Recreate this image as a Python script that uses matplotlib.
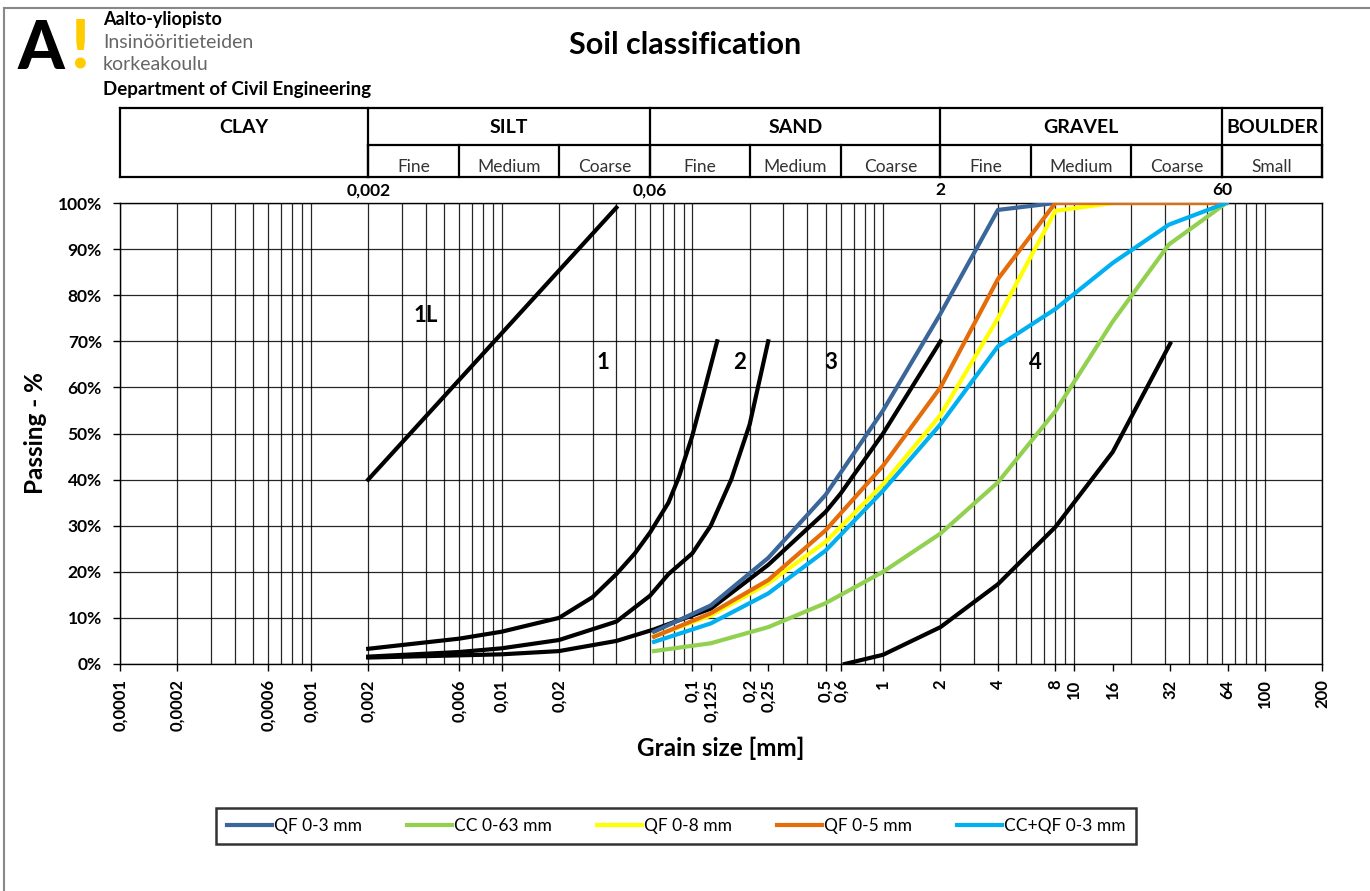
import matplotlib
matplotlib.use("Agg")
import matplotlib.pyplot as plt
from matplotlib.ticker import LogLocator, NullFormatter
from matplotlib.lines import Line2D

plt.rcParams['font.family'] = ['Lato', 'DejaVu Sans']

# grading curves of the tested materials
sieve = [0.063, 0.125, 0.25, 0.5, 1, 2, 4, 8, 16, 31.5, 63]
qf_0_3 = [7, 12.7, 23, 36.7, 55, 76, 98.5, 100, 100, 100, 100]
cc_0_63 = [2.8, 4.5, 8, 13.2, 20, 28.3, 39.4, 54.8, 74.3, 91, 100]
qf_0_8 = [6, 10.5, 17.5, 26.5, 39, 54, 75, 98.3, 100, 100, 100]
qf_0_5 = [5.9, 11, 18.2, 29, 43, 60, 83.5, 100, 100, 100, 100]
ccqf_0_3 = [4.8, 8.8, 15.3, 24.6, 37.6, 52, 68.9, 77, 87, 95.3, 100]

series_names = ["QF 0-3 mm", "CC 0-63 mm", "QF 0-8 mm", "QF 0-5 mm", "CC+QF 0-3 mm"]
series_vals = [qf_0_3, cc_0_63, qf_0_8, qf_0_5, ccqf_0_3]
series_colors = ["#3B6699", "#92D050", "#FFFF00", "#E46C0A", "#00B0F0"]

# zone limit curves (black)
lim_1l_x = [0.002, 0.04]
lim_1l_y = [40, 99]
lim_a_x = [0.002, 0.006, 0.01, 0.02, 0.03, 0.04, 0.05, 0.06, 0.075, 0.085, 0.1, 0.115, 0.135]
lim_a_y = [3.3, 5.5, 7, 10, 14.5, 19.5, 24, 28.5, 35, 40.5, 49.5, 59, 70]
lim_b_x = [0.002, 0.006, 0.01, 0.02, 0.04, 0.06, 0.075, 0.1, 0.125, 0.16, 0.2, 0.25]
lim_b_y = [1.6, 2.6, 3.4, 5.2, 9.2, 14.8, 19.5, 24, 30, 40, 52, 70]
lim_c_x = [0.002, 0.01, 0.02, 0.04, 0.063, 0.125, 0.25, 0.5, 0.6, 1, 2]
lim_c_y = [1.4, 2.1, 2.8, 5, 7.5, 12, 21.5, 33, 37, 50, 70]
lim_d_x = [0.63, 1, 2, 4, 8, 16, 32]
lim_d_y = [0, 2, 8, 17.3, 29.7, 46, 69.5]

zone_labels = ["1L", "1", "2", "3", "4"]
zone_x = [0.004, 0.034, 0.178, 0.53, 6.3]
zone_y = [75.5, 65.5, 65.5, 65.5, 65.5]

tick_vals = [0.0001, 0.0002, 0.0006, 0.001, 0.002, 0.006, 0.01, 0.02, 0.1, 0.125,
             0.2, 0.25, 0.5, 0.6, 1, 2, 4, 8, 10, 16, 32, 64, 100, 200]
tick_labels = ["0,0001", "0,0002", "0,0006", "0,001", "0,002", "0,006", "0,01", "0,02",
               "0,1", "0,125", "0,2", "0,25", "0,5", "0,6", "1", "2", "4", "8", "10",
               "16", "32", "64", "100", "200"]

# header table
main_bounds = [0.0001, 0.002, 0.06, 2, 60, 200]
main_names = ["CLAY", "SILT", "SAND", "GRAVEL", "BOULDER"]
sub_bounds = [0.002, 0.006, 0.02, 0.06, 0.2, 0.6, 2, 6, 20, 60, 200]
sub_names = ["Fine", "Medium", "Coarse", "Fine", "Medium", "Coarse",
             "Fine", "Medium", "Coarse", "Small"]
bound_labels = ["0,002", "0,06", "2", "60"]

W, H = 1370, 891
fig = plt.figure(figsize=(13.7, 8.91), dpi=100)

ax = fig.add_axes([120 / W, 1 - 664 / H, 1202 / W, 461 / H])
ax.set_xscale("log")
ax.set_xlim(0.0001, 200)
ax.set_ylim(0, 100)

for xs, ys in [(lim_1l_x, lim_1l_y), (lim_a_x, lim_a_y), (lim_b_x, lim_b_y),
               (lim_c_x, lim_c_y), (lim_d_x, lim_d_y)]:
    ax.plot(xs, ys, color="black", lw=3, zorder=3)

for name, vals, col in zip(series_names, series_vals, series_colors):
    ax.plot(sieve, vals, color=col, lw=3, label=name, zorder=4)

for lab, zx, zy in zip(zone_labels, zone_x, zone_y):
    ax.text(zx, zy, lab, fontsize=16, fontweight="bold", ha="center", va="center")

ax.set_xticks(tick_vals)
ax.set_xticklabels(tick_labels, rotation=90, fontsize=12, fontweight="bold")
ax.xaxis.set_minor_locator(LogLocator(base=10, subs=range(1, 10), numticks=100))
ax.xaxis.set_minor_formatter(NullFormatter())
ax.xaxis.remove_overlapping_locs = False
ax.tick_params(axis="x", which="minor", length=0)
ax.tick_params(axis="x", which="major", length=5, direction="out", width=1, pad=6)
ax.grid(True, which="minor", axis="x", color="black", lw=0.9, alpha=0.85)

ax.set_yticks(range(0, 101, 10))
ax.set_yticklabels([f"{v}%" for v in range(0, 101, 10)], fontsize=12.5, fontweight="bold")
ax.tick_params(axis="y", length=5, width=1, pad=8)
ax.grid(True, which="major", axis="y", color="black", lw=0.9, alpha=0.85)
for s in ax.spines.values():
    s.set_linewidth(1)
ax.set_axisbelow(True)

ax.set_xlabel("Grain size [mm]", fontsize=17.5, fontweight="bold", labelpad=4)
ax.set_ylabel("Passing - %", fontsize=17.5, fontweight="bold", labelpad=8)

# header table
hx = fig.add_axes([120 / W, 1 - 177 / H, 1202 / W, 69 / H])
hx.set_xscale("log")
hx.set_xlim(0.0001, 200)
hx.set_ylim(0, 1)
hx.axis("off")
mid = 0.464
lk = dict(color="black", lw=1.6, clip_on=False)
hx.plot([0.0001, 200], [1, 1], **lk)
hx.plot([0.0001, 200], [0, 0], **lk)
hx.plot([0.002, 200], [mid, mid], **lk)
for b in main_bounds:
    hx.plot([b, b], [0, 1], **lk)
for b in sub_bounds:
    hx.plot([b, b], [0, mid], **lk)
for i, name in enumerate(main_names):
    xc = (main_bounds[i] * main_bounds[i + 1]) ** 0.5
    hx.text(xc, 0.72, name, ha="center", va="center", fontsize=14, fontweight="bold")
for i, name in enumerate(sub_names):
    xc = (sub_bounds[i] * sub_bounds[i + 1]) ** 0.5
    hx.text(xc, 0.15, name, ha="center", va="center", fontsize=12.5, color="#333333")
for b, lab in zip(main_bounds[1:5], bound_labels):
    hx.text(b, -0.19, lab, ha="center", va="center", fontsize=12.5, fontweight="bold")

# title and logo
fig.text(685 / W, 1 - 45 / H, "Soil classification", ha="center", va="center",
         fontsize=22, fontweight="bold")
fig.text(18 / W, 1 - 50 / H, "A", ha="left", va="center", fontsize=48,
         fontweight="black")
fig.text(71 / W, 1 - 48 / H, "!", ha="left", va="center", fontsize=48,
         fontweight="black", color="#FFCC00")
fig.text(103 / W, 1 - 19 / H, "Aalto-yliopisto", ha="left", va="center",
         fontsize=13, fontweight="bold")
fig.text(103 / W, 1 - 43 / H, "Insinööritieteiden", ha="left", va="center",
         fontsize=14, color="#666666")
fig.text(103 / W, 1 - 65 / H, "korkeakoulu", ha="left", va="center",
         fontsize=14, color="#666666")
fig.text(103 / W, 1 - 90 / H, "Department of Civil Engineering", ha="left",
         va="center", fontsize=13.5, fontweight="bold")

# outer chart border
fig.add_artist(Line2D([4 / W, 4 / W], [0, 1 - 8 / H], color="#888888", lw=1.5))
fig.add_artist(Line2D([4 / W, 1], [1 - 8 / H, 1 - 8 / H], color="#888888", lw=1.5))

leg = fig.legend(loc="center", bbox_to_anchor=(676 / W, 1 - 826 / H), ncol=5,
                 fontsize=12.5, frameon=True, fancybox=False, edgecolor="black",
                 handlelength=2.6, handletextpad=0.1, columnspacing=2.6,
                 borderpad=0.6)
leg.get_frame().set_linewidth(1.8)

fig.savefig("out.png", dpi=100)
